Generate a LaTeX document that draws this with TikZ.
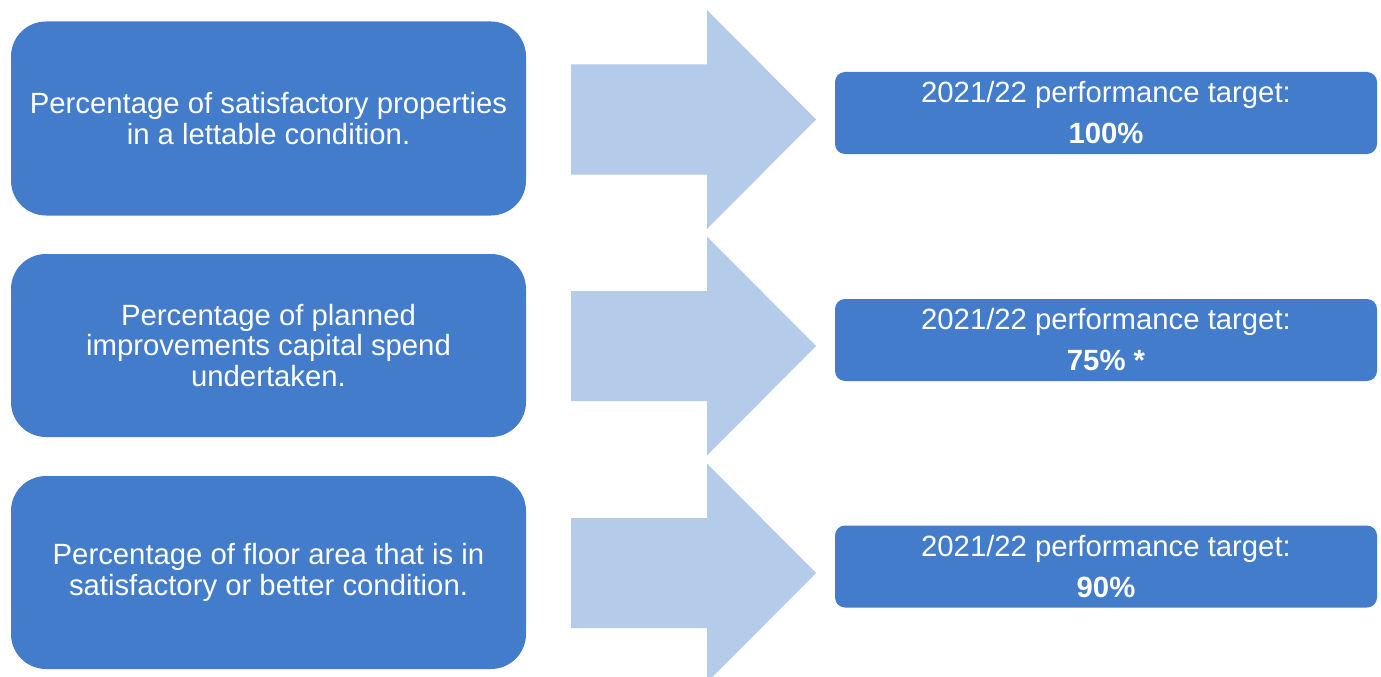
\documentclass[tikz,border=0pt]{standalone}
\usepackage{fontspec}
\setmainfont{Liberation Sans}
\definecolor{kpiblue}{RGB}{66,124,202}
\definecolor{arrowblue}{RGB}{180,203,234}
\begin{document}
\begin{tikzpicture}[x=1pt,y=-1pt,
  measure/.style={fill=kpiblue, rounded corners=35pt, minimum width=515pt,
    text=white, align=center, inner sep=0pt,
    font=\fontsize{29.3}{30.5}\selectfont},
  target/.style={fill=kpiblue, rounded corners=10pt, minimum width=542pt,
    minimum height=82pt, text=white, align=center, inner sep=0pt,
    font=\fontsize{29.3}{41}\selectfont},
  bigarrow/.style={fill=arrowblue}]
\useasboundingbox (0,0) rectangle (1381,677);

% measures on the left
\node[measure, minimum height=194pt] (m1) at (268.5,118.5)
  {Percentage of satisfactory properties\\in a lettable condition.};
\node[measure, minimum height=183pt] (m2) at (268.5,345.5)
  {Percentage of planned\\improvements capital spend\\undertaken.};
\node[measure, minimum height=193pt] (m3) at (268.5,572.5)
  {Percentage of floor area that is in\\satisfactory or better condition.};

% block arrows between measure and target
\foreach \c/\n in {119.5/a1, 346/a2, 573/a3}{
  \fill[bigarrow] (571,\c-55) -- (707,\c-55) -- (707,\c-109.5)
    -- (816,\c) -- (707,\c+109.5) -- (707,\c+55) -- (571,\c+55) -- cycle;
}

% targets on the right
\node[target] (t1) at (1106,113)
  {2021/22 performance target:\\\textbf{100\%}};
\node[target] (t2) at (1106,340)
  {2021/22 performance target:\\\textbf{75\% *}};
\node[target] (t3) at (1106,566.5)
  {2021/22 performance target:\\\textbf{90\%}};
\end{tikzpicture}
\end{document}
